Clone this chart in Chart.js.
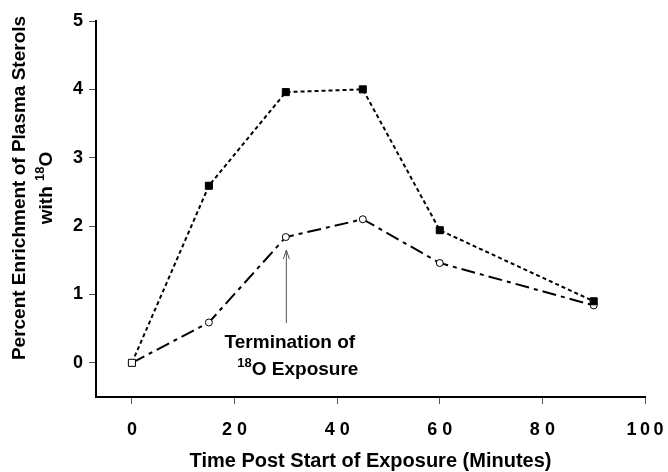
<!DOCTYPE html>
<html>
<head>
<meta charset="utf-8">
<script src="https://cdn.jsdelivr.net/npm/chart.js@4.4.1/dist/chart.umd.min.js"></script>
<style>
html,body{margin:0;padding:0;background:#fff;}
#wrap{width:668px;height:472px;position:relative;}
</style>
</head>
<body>
<div id="wrap"><canvas id="c" width="668" height="472"></canvas></div>
<script>
// ---- data ----
const timeMinutes = [0, 15, 30, 45, 60, 90];
const squareSeries = [0, 2.59, 3.96, 4.0, 1.94, 0.90];   // filled squares, dotted line
const circleSeries = [0, 0.59, 1.84, 2.10, 1.46, 0.84];  // open circles, dash-dot line
const xTickValues = [0, 20, 40, 60, 80, 100];
const xTickLabels = ['0', '2 0', '4 0', '6 0', '8 0', '1\u20090\u20090'];
const yTickValues = [0, 1, 2, 3, 4, 5];
const yTickLabels = ['0', '1', '2', '3', '4', '5'];
const xTitle = 'Time Post Start of Exposure (Minutes)';
const yTitleLine1 = 'Percent Enrichment of Plasma Sterols';
const yTitleLine2 = ['with ', '18', 'O'];
const noteLine1 = 'Termination of';
const noteLine2 = ['', '18', 'O Exposure'];
const arrowX = 30, arrowFromY = 0.58, arrowToY = 1.65;

const FONT = '"Liberation Sans", Arial, Helvetica, sans-serif';

function drawSupText(ctx, parts, cx, cy, size) {
  const big = 'bold ' + size + 'px ' + FONT;
  const small = 'bold ' + Math.round(size * 0.68) + 'px ' + FONT;
  ctx.font = big; const w0 = ctx.measureText(parts[0]).width;
  ctx.font = small; const w1 = ctx.measureText(parts[1]).width;
  ctx.font = big; const w2 = ctx.measureText(parts[2]).width;
  let x = cx - (w0 + w1 + w2) / 2;
  ctx.textAlign = 'left'; ctx.textBaseline = 'middle';
  ctx.font = big; ctx.fillText(parts[0], x, cy); x += w0;
  ctx.font = small; ctx.fillText(parts[1], x, cy - size * 0.32); x += w1;
  ctx.font = big; ctx.fillText(parts[2], x, cy);
}

const textPlugin = {
  id: 'texts',
  afterDraw(chart) {
    const ctx = chart.ctx;
    const xs = chart.scales.x, ys = chart.scales.y, ca = chart.chartArea;
    ctx.save();
    ctx.fillStyle = '#000';
    // x title
    ctx.font = 'bold 20px ' + FONT;
    ctx.textAlign = 'center'; ctx.textBaseline = 'middle';
    ctx.fillText(xTitle, (ca.left + ca.right) / 2, 461);
    // y title
    ctx.save();
    ctx.translate(20, 188);
    ctx.rotate(-Math.PI / 2);
    ctx.font = 'bold 19px ' + FONT;
    ctx.textAlign = 'center'; ctx.textBaseline = 'middle';
    ctx.fillText(yTitleLine1, 0, 0);
    ctx.restore();
    ctx.save();
    ctx.translate(47, 188);
    ctx.rotate(-Math.PI / 2);
    drawSupText(ctx, yTitleLine2, 0, 0, 19);
    ctx.restore();
    // arrow
    const ax = xs.getPixelForValue(arrowX);
    const y1 = ys.getPixelForValue(arrowFromY), y2 = ys.getPixelForValue(arrowToY);
    ctx.strokeStyle = '#555'; ctx.lineWidth = 1;
    ctx.beginPath();
    ctx.moveTo(ax + 0.5, y1); ctx.lineTo(ax + 0.5, y2);
    ctx.moveTo(ax - 2.5, y2 + 9); ctx.lineTo(ax + 0.5, y2); ctx.lineTo(ax + 3.5, y2 + 9);
    ctx.stroke();
    // note text
    ctx.font = 'bold 19px ' + FONT;
    ctx.textAlign = 'center'; ctx.textBaseline = 'middle';
    ctx.fillText(noteLine1, ax + 4, 343);
    drawSupText(ctx, noteLine2, ax + 12, 370, 19);
    ctx.restore();
  }
};

const tickOverride = (vals) => (scale) => { scale.ticks = vals.map(v => ({ value: v })); };

new Chart(document.getElementById('c'), {
  type: 'line',
  data: {
    datasets: [
      {
        data: timeMinutes.map((t, i) => ({ x: t, y: squareSeries[i] })),
        borderColor: '#000', borderWidth: 2, borderDash: [4, 3],
        pointStyle: 'rect', pointRadius: 5,
        pointBackgroundColor: squareSeries.map((v, i) => i === 0 ? '#fff' : '#000'),
        pointBorderColor: '#000', pointBorderWidth: 1,
        tension: 0, fill: false
      },
      {
        data: timeMinutes.map((t, i) => ({ x: t, y: circleSeries[i] })),
        borderColor: '#000', borderWidth: 2, borderDash: [14, 5, 4, 5],
        pointStyle: 'circle', pointRadius: circleSeries.map((v, i) => i === 0 ? 0 : 3.5),
        pointBackgroundColor: '#fff', pointBorderColor: '#000', pointBorderWidth: 1,
        tension: 0, fill: false
      }
    ]
  },
  options: {
    responsive: false, animation: false, devicePixelRatio: 1,
    layout: { padding: { left: 0, right: 23, top: 21, bottom: 0 } },
    plugins: { legend: { display: false }, tooltip: { enabled: false } },
    scales: {
      x: {
        type: 'linear', min: -7, max: 100,
        afterBuildTicks: tickOverride(xTickValues),
        afterFit: (s) => { s.height = 75; s.paddingLeft = 0; s.paddingRight = 0; },
        border: { display: true, color: '#000', width: 2 },
        grid: { display: true, drawOnChartArea: false, drawTicks: true, tickLength: 7, color: '#555', lineWidth: 1 },
        ticks: {
          color: '#000', font: { family: FONT, size: 18, weight: 'bold' }, padding: 15,
          maxRotation: 0, autoSkip: false,
          callback: (v) => xTickLabels[xTickValues.indexOf(v)]
        }
      },
      y: {
        type: 'linear', min: -0.5, max: 5,
        afterBuildTicks: tickOverride(yTickValues),
        afterFit: (s) => { s.width = 96; s.paddingTop = 0; s.paddingBottom = 0; },
        border: { display: true, color: '#000', width: 2 },
        grid: { display: true, drawOnChartArea: false, drawTicks: true, tickLength: 7, color: '#555', lineWidth: 1 },
        ticks: {
          color: '#000', font: { family: FONT, size: 18, weight: 'bold' }, padding: 6,
          autoSkip: false,
          callback: (v) => yTickLabels[yTickValues.indexOf(v)]
        }
      }
    }
  },
  plugins: [textPlugin]
});
</script>
</body>
</html>
